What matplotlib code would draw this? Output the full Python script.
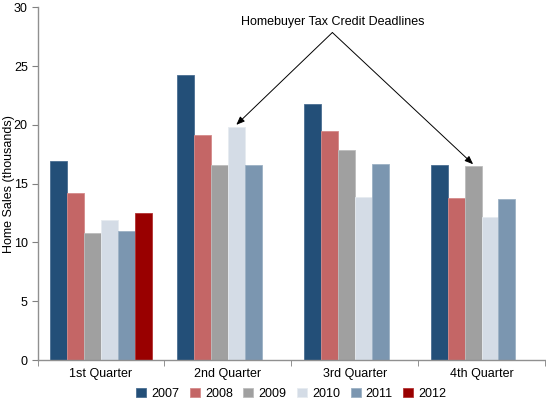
import matplotlib
matplotlib.use("Agg")
import matplotlib.pyplot as plt
import numpy as np

plt.rcParams['font.family'] = ['Liberation Sans', 'DejaVu Sans']

categories = ["1st Quarter", "2nd Quarter", "3rd Quarter", "4th Quarter"]
years = ["2007", "2008", "2009", "2010", "2011", "2012"]
s2007 = [16.9, 24.2, 21.8, 16.6]
s2008 = [14.2, 19.1, 19.5, 13.75]
s2009 = [10.8, 16.6, 17.9, 16.5]
s2010 = [11.9, 19.85, 13.85, 12.2]
s2011 = [11.0, 16.6, 16.7, 13.7]
s2012 = [12.5, np.nan, np.nan, np.nan]
series = [s2007, s2008, s2009, s2010, s2011, s2012]
colors = ["#234F78", "#C46666", "#A0A0A0", "#D4DCE6", "#7B96B0", "#990000"]
edges = ["#4A6E92", "#D48A8A", "#BDBDBD", "#E6EBF0", "#9CB1C5", "#B33333"]
annot_text = "Homebuyer Tax Credit Deadlines"

fig = plt.figure(figsize=(5.46, 4.01), dpi=100)
ax = fig.add_axes([0.0687, 0.102, 0.9295, 0.880])

x = np.arange(len(categories))
n = len(series)
w = 0.8 / n
for i, (vals, c, e, yr) in enumerate(zip(series, colors, edges, years)):
    ax.bar(x - 0.4 + (i + 0.5) * w, vals, width=w, color=c, edgecolor=e,
           linewidth=0.6, label=yr, zorder=2)

ax.set_xlim(-0.5, 3.5)
ax.set_ylim(0, 30)
ax.set_yticks([0, 5, 10, 15, 20, 25, 30])
ax.set_xticks(x)
ax.set_xticklabels(categories)
ax.set_xticks(np.arange(-0.5, 4.0, 1.0), minor=True)
ax.tick_params(axis='x', which='major', length=0, labelsize=9, pad=6)
ax.tick_params(axis='x', which='minor', length=4, color='#808080', direction='out')
ax.tick_params(axis='y', labelsize=9, length=4, color='#808080', direction='out', pad=3)
for sp in ['top', 'right']:
    ax.spines[sp].set_visible(False)
for sp in ['left', 'bottom']:
    ax.spines[sp].set_color('#909090')
    ax.spines[sp].set_linewidth(1.0)

fig.text(9 / 546, 0.54, "Home Sales (thousands)", rotation=90, ha='center',
         va='center', fontsize=9)

# annotation arrows
apex = (1.824, 27.85)
tip1 = (1 - 0.4 + 3.5 * w, s2010[1] + 0.15)
tip2 = (3 - 0.4 + 2.5 * w, s2009[3] + 0.15)
for tip in (tip1, tip2):
    ax.annotate("", xy=tip, xytext=apex,
                arrowprops=dict(arrowstyle="-|>,head_length=0.5,head_width=0.2",
                                color="black", lw=0.7, shrinkA=0, shrinkB=0))
ax.text(apex[0], 28.25, annot_text, ha='center', va='bottom', fontsize=9)

ax.legend(loc='center', bbox_to_anchor=(0.5, -0.095), ncol=6, frameon=False,
          fontsize=9, handlelength=0.8, handleheight=0.8, handletextpad=0.4,
          columnspacing=0.85, borderaxespad=0)

fig.savefig("out.png", dpi=100)
